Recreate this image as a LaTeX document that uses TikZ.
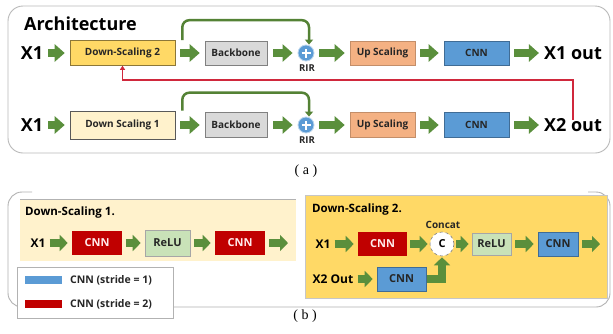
\documentclass[tikz,border=0pt]{standalone}
\usepackage{fontspec}
\setmainfont{Open Sans}
\newfontfamily\serifcap{Liberation Serif}
\usetikzlibrary{arrows.meta,calc}
\definecolor{gar}{HTML}{5A8F3C}
\definecolor{skipg}{HTML}{548235}
\definecolor{gold}{HTML}{FFD966}
\definecolor{lyel}{HTML}{FFF2CC}
\definecolor{bbgray}{HTML}{D9D9D9}
\definecolor{upor}{HTML}{F4B183}
\definecolor{cblue}{HTML}{5B9BD5}
\definecolor{cred}{HTML}{C00000}
\definecolor{relug}{HTML}{C9E2B8}
\definecolor{fbred}{HTML}{D0283C}
\definecolor{txt}{HTML}{262626}
\begin{document}
\begin{tikzpicture}[x=1pt,y=-1pt,
  blk/.style={rectangle, inner sep=0pt, line width=0.6pt, font=\bfseries\fontsize{10}{12}\selectfont, text=txt},
  blkb/.style={rectangle, inner sep=0pt, line width=0.6pt, font=\bfseries\fontsize{11}{13}\selectfont, text=txt},
  bigtxt/.style={inner sep=0pt, font=\bfseries\fontsize{18}{20}\selectfont, text=black},
  midtxt/.style={inner sep=0pt, font=\bfseries\fontsize{11.5}{13}\selectfont, text=black},
  smtxt/.style={inner sep=0pt, font=\bfseries\fontsize{12}{14}\selectfont, text=black},
  legtxt/.style={inner sep=0pt, font=\bfseries\fontsize{10.5}{12}\selectfont, text=txt},
  garrow/.style={draw=gar, line width=7.5pt, -{Triangle[length=10pt,width=17pt]}, shorten <=5pt, shorten >=5pt},
  garrowb/.style={draw=gar, line width=7.5pt, -{Triangle[length=8pt,width=16pt]}, shorten <=4pt, shorten >=4pt},
  skiparr/.style={draw=skipg, line width=2.5pt, rounded corners=7pt, -{Triangle[length=5pt,width=8pt]}},
  fb/.style={draw=fbred, line width=1.6pt, -{Triangle[length=4pt,width=5pt]}},
  rir/.style={circle, fill=cblue, draw=cblue!40, line width=0.8pt, minimum size=16pt, inner sep=0pt},
  rirlab/.style={font=\bfseries\fontsize{9.5}{11}\selectfont, text=txt, inner sep=0pt},
  capt/.style={inner sep=0pt, font=\serifcap\fontsize{14}{16}\selectfont},
  plus/.style={white, line width=2pt}
]
\useasboundingbox (0,0) rectangle (613,333);
\fill[white] (0,0) rectangle (613,333);

% ---------------- (a) ----------------
\draw[gray!55, line width=0.9pt, rounded corners=15pt] (8,6) rectangle (610,153);
\node[bigtxt, anchor=west] (arch) at (24,24) {Architecture};

% row 1
\node[bigtxt] (xa) at (32,53) {X1};
\node[blk, fill=gold, draw=gold!55!black, minimum width=105pt, minimum height=25pt] (dsB) at (122.5,53) {Down-Scaling 2};
\node[blk, fill=bbgray, draw=gray, minimum width=62pt, minimum height=24pt] (bbA) at (236,53) {Backbone};
\node[rir] (rirA) at (306,53) {};
\node[rirlab] (rirAl) at (307,68) {RIR};
\node[blk, fill=upor, draw=upor!80!black, minimum width=65pt, minimum height=24pt] (upA) at (382.5,53) {Up Scaling};
\node[blk, fill=cblue, draw=cblue!70!black, minimum width=65pt, minimum height=24pt] (cnA) at (476.5,53) {CNN};
\node[bigtxt] (outA) at (573,53) {X1 out};
\draw[plus] ([xshift=-4.5pt]rirA.center) -- ([xshift=4.5pt]rirA.center);
\draw[plus] ([yshift=-4.5pt]rirA.center) -- ([yshift=4.5pt]rirA.center);

\draw[garrow] (xa) -- (dsB);
\draw[garrow] (dsB) -- (bbA);
\draw[garrow, shorten <=6pt] (bbA) -- (rirA);
\draw[garrow] (rirA) -- (upA);
\draw[garrow] (upA) -- (cnA);
\draw[garrow] (cnA) -- (outA);
\draw[skiparr] ([xshift=7pt]dsB.north east) -- ++(0,-20) -| ([xshift=3pt]rirA.north);

% row 2
\node[bigtxt] (xb) at (32,125) {X1};
\node[blk, fill=lyel, draw=gray!70!black, minimum width=105pt, minimum height=28pt] (dsA) at (122.5,125) {Down Scaling 1};
\node[blk, fill=bbgray, draw=gray, minimum width=62pt, minimum height=25pt] (bbB) at (236,125) {Backbone};
\node[rir] (rirB) at (306,125) {};
\node[rirlab] (rirBl) at (307,140) {RIR};
\node[blk, fill=upor, draw=upor!80!black, minimum width=65pt, minimum height=25pt] (upB) at (382.5,125) {Up Scaling};
\node[blk, fill=cblue, draw=cblue!70!black, minimum width=65pt, minimum height=25pt] (cnB) at (476.5,125) {CNN};
\node[bigtxt] (outB) at (573,125) {X2 out};
\draw[plus] ([xshift=-4.5pt]rirB.center) -- ([xshift=4.5pt]rirB.center);
\draw[plus] ([yshift=-4.5pt]rirB.center) -- ([yshift=4.5pt]rirB.center);

\draw[garrow] (xb) -- (dsA);
\draw[garrow] (dsA) -- (bbB);
\draw[garrow, shorten <=6pt] (bbB) -- (rirB);
\draw[garrow] (rirB) -- (upB);
\draw[garrow] (upB) -- (cnB);
\draw[garrow] (cnB) -- (outB);
\draw[skiparr] ([xshift=7pt]dsA.north east) -- ++(0,-18) -| ([xshift=3pt]rirB.north);

% feedback
\coordinate (fbturn) at (0,78);
\draw[fb] ([yshift=-2pt]outB.north) -- ([yshift=-2pt]outB.north |- fbturn) -| (dsB.south);

\node[capt] (capa) at (306,171) {( a )};

% ---------------- (b) ----------------
\draw[gray!60, line width=0.9pt, rounded corners=14pt] (32,192) -| (8,307) -| (610,192) -- (588,192);

\node[fill=lyel, minimum width=276pt, minimum height=62pt, inner sep=0pt, anchor=north west] (pone) at (20,199) {};
\draw[gray!60, line width=0.8pt] (pone.north west) -- (pone.north east);
\node[fill=gold, draw=gray!45, line width=0.6pt, minimum width=302pt, minimum height=103pt, inner sep=0pt, anchor=north west] (ptwo) at (305,195) {};

\node[midtxt, anchor=west] (tone) at (25,213) {Down-Scaling 1.};
\node[midtxt, anchor=west] (ttwo) at (312,210) {Down-Scaling 2.};

% panel 1 row
\node[smtxt] (xc) at (38,243) {X1};
\node[blkb, fill=cred, text=white!92!red, minimum width=50pt, minimum height=24pt] (cnnA) at (97,243) {CNN};
\node[blkb, fill=relug, draw=gray!70, minimum width=45pt, minimum height=26pt] (reluA) at (167.5,243) {ReLU};
\node[blkb, fill=cred, text=white!92!red, minimum width=50pt, minimum height=24pt] (cnnB) at (240,243) {CNN};
\coordinate (endA) at (292,243);
\draw[garrowb] (xc) -- (cnnA);
\draw[garrowb] (cnnA) -- (reluA);
\draw[garrowb] (reluA) -- (cnnB);
\draw[garrowb] (cnnB) -- (endA);

% legend
\node[fill=white, draw=gray!60, line width=0.8pt, anchor=north west, minimum width=156pt, minimum height=51pt, inner sep=0pt] (leg) at (17,267) {};
\node[fill=cblue, minimum width=37pt, minimum height=8pt, inner sep=0pt] (swb) at (43.5,280) {};
\node[legtxt, anchor=west] (lb) at (70,280) {CNN (stride = 1)};
\node[fill=cred, minimum width=37pt, minimum height=8pt, inner sep=0pt] (swr) at (43.5,304) {};
\node[legtxt, anchor=west] (lr) at (70,304) {CNN (stride = 2)};

% panel 2
\node[inner sep=0pt, font=\bfseries\fontsize{10}{12}\selectfont, text=txt] (concat) at (443,225) {Concat};
\node[smtxt] (xd) at (323,244) {X1};
\node[blkb, fill=cred, text=white!92!red, minimum width=49pt, minimum height=24pt] (cnnC) at (382.5,244) {CNN};
\node[circle, fill=white, draw=gray, dashed, line width=0.6pt, minimum size=24pt, inner sep=0pt, font=\bfseries\fontsize{11}{13}\selectfont] (cc) at (442,244) {C};
\node[blkb, fill=relug, draw=gray!70, minimum width=39pt, minimum height=22pt] (reluB) at (491.5,244) {ReLU};
\node[blkb, fill=cblue, draw=cblue!70!black, minimum width=40pt, minimum height=24pt] (cnnD) at (558,244) {CNN};
\coordinate (endB) at (604,244);
\node[smtxt] (xe) at (333,279) {X2 Out};
\node[blkb, fill=cblue, draw=cblue!70!black, minimum width=49pt, minimum height=24pt] (cnnE) at (401.5,279) {CNN};

\draw[garrowb] (xd) -- (cnnC);
\draw[garrowb, shorten <=3pt, shorten >=2pt] (cnnC) -- (cc);
\draw[garrowb, shorten <=2pt, shorten >=3pt] (cc) -- (reluB);
\draw[garrowb] (reluB) -- (cnnD);
\draw[garrowb] (cnnD) -- (endB);
\draw[garrowb] (xe) -- (cnnE);
\draw[garrowb, shorten <=1pt, shorten >=1pt] (cnnE.east) -| (cc.south);

\node[capt] (capb) at (305,316) {( b )};
\end{tikzpicture}
\end{document}
